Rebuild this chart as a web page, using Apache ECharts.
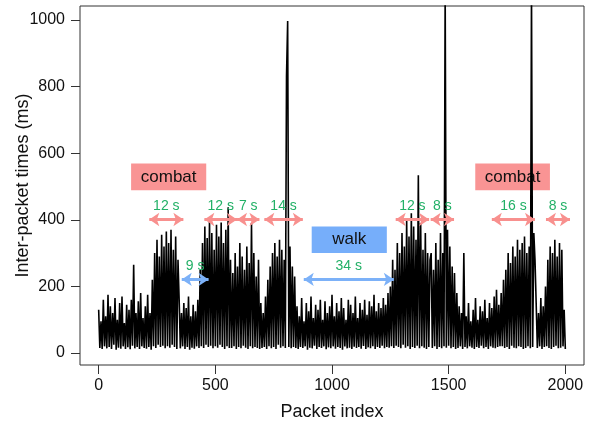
<!DOCTYPE html>
<html><head><meta charset="utf-8">
<script src="https://cdn.jsdelivr.net/npm/echarts@6/dist/echarts.min.js"></script>
<style>html,body{margin:0;padding:0;background:#fff}#c{width:594px;height:423px}</style>
</head><body><div id="c"></div>
<script>
// packet index step between consecutive values
const STEP = 5;
// inter-packet times (ms), segment by segment
const segA = [130,15,95,12,160,20,110,14,175,18,140,12,120,25,165,10,100,16,150,13,
  170,20,90,12,145,17,130,11,160,22,265,14,120,18,155,12,180,20,105,15,140,13,175,18,120,10];
const segB = [220,20,300,15,340,25,290,18,355,22,320,14,365,20,330,16,370,25,310,18,350,12,280];
const segC = [160,14,120,20,150,12,135,18,170,10,110,16,145,13,125,20,160,15];
const segD = [250,20,330,15,380,25,345,18,400,22,360,14,310,20,385,16,350,25,392,18,330,12,370,20,438,15];
const segE = [280,15,240,20,300,12,260,18,330,14,290,22,250,16,320,12,270,20,390,14,300,18,230,15,280,12];
const segF = [150,15,120,18,170,12];
const segG = [220,20,260,14,300,18,330,12,290,25,340,16,310,20,280,15,830,997,18,320,14,260,18,230,15];
const segH = [140,12,110,18,165,15,95,20,150,10,125,16,170,14,105,22,145,12,130,18,
  160,15,100,20,155,11,120,17,140,14,175,20,110,13,150,18,125,15,165,10,
  135,20,100,14,160,16,145,12,120,19,170,15,105,18,150,13,130,21,160,12,
  115,17,155,14,140,20,175,12,125,18,150,15,135,22,165,14,145,18,180,16];
const segI = [200,20,280,15,250,22,330,18,300,14,360,25,320,16,400,20,350,12,420,18,380,15,340,22,534,14,390,20,310,16,360,12,300,18,280];
const segJ = [300,15,250,20,330,12,280,18,360,14,300,20,1100,16,370,22,320,14,260,18,240,12];
const segK = [180,15,140,20,120,12,300,18,110,14,150,20,95,16,130,12,165,18,100,15,
  140,22,125,14,160,18,105,12,150,20,135,16,170,14,190,18,145,20];
const segL = [180,20,220,15,250,18,300,12,270,22,320,16,290,14,340,20,310,18,330,12,350,15,300,20,320,14,1100,18,360,280];
const segM = [150,15,120,20,165,12,140,18];
const segN = [200,20,280,15,320,12,300,18,340,22,290,14,330,16,310,20,130,12];
const ipt = [].concat(segA,segB,segC,segD,segE,segF,segG,segH,segI,segJ,segK,segL,segM,segN);

const xTicks = [0,500,1000,1500,2000];
const yTicks = [0,200,400,600,800,1000];

// annotations: [start index, end index, label]
const combatArrows = [[217,363,'12 s'],[453,593,'12 s'],[593,689,'7 s'],[710,875,'14 s'],
  [1273,1416,'12 s'],[1423,1523,'8 s'],[1685,1870,'16 s'],[1917,2020,'8 s']];
const combatArrowLevel = 401;
const walkArrows = [[356,471,'9 s'],[879,1265,'34 s']];
const walkArrowLevel = 221;
// boxes: [x1, x2, y1, y2, text, kind]
const boxes = [[139,461,489,569,'combat','c'],[913,1235,300,380,'walk','w'],[1614,1934,489,569,'combat','c']];

const FONT = '"Liberation Sans", Arial, Helvetica, sans-serif';
const RED = '#f8908e', BLUE = '#7cb1f8', GREEN = '#22b066';
const BOXC = {c:'#f99494', w:'#76aefa'};

const seriesData = ipt.map((v,i)=>[i*STEP, v]);

function arrowItems(list, level, color){
  return list.map(a=>[
    {coord:[a[0],level], lineStyle:{color:color,width:3,type:'solid'},
     label:{show:true,formatter:a[2],position:'insideMiddleTop',distance:6,color:GREEN,fontSize:14,fontFamily:FONT}},
    {coord:[a[1],level]}
  ]);
}

const chart = echarts.init(document.getElementById('c'), null, {renderer:'canvas'});
chart.setOption({
  animation:false,
  backgroundColor:'#fff',
  grid:{left:80,right:10,top:6,bottom:58,containLabel:false,outerBoundsMode:'none',
    show:true,borderColor:'#333',borderWidth:1,backgroundColor:'transparent'},
  xAxis:{type:'value',min:-80,max:2080,
    name:'Packet index',nameLocation:'middle',nameGap:38,nameMoveOverlap:false,
    nameTextStyle:{fontSize:18,color:'#111',fontFamily:FONT},
    axisLine:{show:false,onZero:false},splitLine:{show:false},
    axisTick:{show:true,inside:false,length:9,customValues:xTicks,lineStyle:{color:'#333'}},
    axisLabel:{customValues:xTicks,margin:13,fontSize:16,color:'#111',fontFamily:FONT,formatter:v=>String(v)}},
  yAxis:{type:'value',min:-36,max:1042,
    name:'Inter-packet times (ms)',nameLocation:'middle',nameGap:48,nameMoveOverlap:false,
    nameTextStyle:{fontSize:18,color:'#111',fontFamily:FONT},
    axisLine:{show:false,onZero:false},splitLine:{show:false},
    axisTick:{show:true,inside:false,length:9,customValues:yTicks,lineStyle:{color:'#333'}},
    axisLabel:{customValues:yTicks,margin:15,fontSize:16,color:'#111',fontFamily:FONT,formatter:v=>String(v)}},
  series:[
    {type:'line',data:seriesData,symbol:'none',showSymbol:false,sampling:false,clip:true,
     lineStyle:{color:'#000',width:1.6,join:'bevel'},z:2,silent:true},
    {type:'scatter',data:[],z:5,silent:true,
     markArea:{silent:true,
       data:boxes.map(b=>[
         {coord:[b[0],b[3]],itemStyle:{color:BOXC[b[5]],opacity:1},
          label:{show:true,position:'inside',formatter:b[4],color:'#111',fontSize:17,fontFamily:FONT}},
         {coord:[b[1],b[2]]}])},
     markLine:{silent:true,symbol:['arrow','arrow'],symbolSize:10,animation:false,
       data:arrowItems(combatArrows,combatArrowLevel,RED).concat(arrowItems(walkArrows,walkArrowLevel,BLUE))}
    }
  ]
});
</script></body></html>
